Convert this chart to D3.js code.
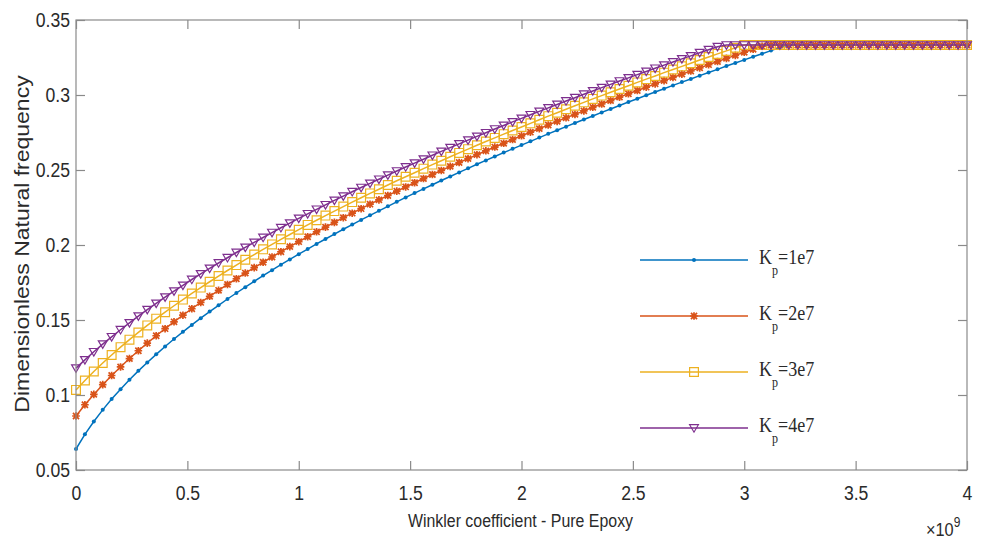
<!DOCTYPE html>
<html>
<head>
<meta charset="utf-8">
<script src="https://cdn.jsdelivr.net/npm/d3@7"></script>
<style>
  html, body { margin: 0; padding: 0; background: #fff; }
  svg { display: block; }
</style>
</head>
<body>
<svg id="chart" width="983" height="543"></svg>
<script>
// ---------------- data ----------------
const xTicks = [0, 0.5, 1, 1.5, 2, 2.5, 3, 3.5, 4];
const xTickLabels = ["0", "0.5", "1", "1.5", "2", "2.5", "3", "3.5", "4"];
const yTicks = [0.05, 0.1, 0.15, 0.2, 0.25, 0.3, 0.35];
const yTickLabels = ["0.05", "0.1", "0.15", "0.2", "0.25", "0.3", "0.35"];
const xLabel = "Winkler coefficient - Pure Epoxy";
const yLabel = "Dimensionless Natural frequency";
const xExponent = "9";

// Winkler coefficient samples (x 1e9), 0 to 4 with step 0.04
const winkler = d3.range(101).map(i => +(i * 0.04).toFixed(2));

const seriesNames = ["1e7", "2e7", "3e7", "4e7"];

const kp1 = [0.0640,0.0738,0.0823,0.0901,0.0973,0.1039,0.1102,0.1161,0.1217,0.1271,
  0.1323,0.1373,0.1421,0.1467,0.1512,0.1556,0.1598,0.1640,0.1680,0.1719,
  0.1758,0.1796,0.1832,0.1869,0.1904,0.1939,0.1973,0.2007,0.2040,0.2073,
  0.2105,0.2136,0.2167,0.2198,0.2228,0.2258,0.2288,0.2317,0.2346,0.2374,
  0.2402,0.2430,0.2457,0.2484,0.2511,0.2538,0.2564,0.2590,0.2616,0.2641,
  0.2666,0.2691,0.2716,0.2741,0.2765,0.2789,0.2813,0.2837,0.2860,0.2884,
  0.2907,0.2930,0.2953,0.2975,0.2998,0.3020,0.3042,0.3064,0.3086,0.3107,
  0.3129,0.3150,0.3171,0.3193,0.3213,0.3234,0.3255,0.3275,0.3296,0.3316,
  0.3333,0.3333,0.3333,0.3333,0.3333,0.3333,0.3333,0.3333,0.3333,0.3333,
  0.3333,0.3333,0.3333,0.3333,0.3333,0.3333,0.3333,0.3333,0.3333,0.3333,
  0.3333];

const kp2 = [0.0860,0.0935,0.1004,0.1069,0.1130,0.1187,0.1243,0.1295,0.1346,0.1395,
  0.1442,0.1488,0.1532,0.1575,0.1617,0.1658,0.1698,0.1737,0.1775,0.1813,
  0.1849,0.1885,0.1920,0.1955,0.1989,0.2022,0.2055,0.2088,0.2119,0.2151,
  0.2182,0.2212,0.2242,0.2272,0.2301,0.2330,0.2359,0.2387,0.2415,0.2443,
  0.2470,0.2497,0.2524,0.2550,0.2576,0.2602,0.2628,0.2653,0.2678,0.2703,
  0.2728,0.2752,0.2776,0.2800,0.2824,0.2848,0.2871,0.2894,0.2918,0.2940,
  0.2963,0.2986,0.3008,0.3030,0.3052,0.3074,0.3096,0.3117,0.3139,0.3160,
  0.3181,0.3202,0.3223,0.3244,0.3264,0.3285,0.3305,0.3325,0.3333,0.3333,
  0.3333,0.3333,0.3333,0.3333,0.3333,0.3333,0.3333,0.3333,0.3333,0.3333,
  0.3333,0.3333,0.3333,0.3333,0.3333,0.3333,0.3333,0.3333,0.3333,0.3333,
  0.3333];

const kp3 = [0.1034,0.1097,0.1157,0.1213,0.1267,0.1319,0.1369,0.1417,0.1464,0.1509,
  0.1552,0.1595,0.1636,0.1677,0.1716,0.1755,0.1793,0.1830,0.1866,0.1902,
  0.1936,0.1971,0.2004,0.2038,0.2070,0.2102,0.2134,0.2165,0.2196,0.2226,
  0.2256,0.2286,0.2315,0.2344,0.2372,0.2400,0.2428,0.2455,0.2482,0.2509,
  0.2536,0.2562,0.2588,0.2614,0.2639,0.2665,0.2690,0.2714,0.2739,0.2763,
  0.2787,0.2811,0.2835,0.2859,0.2882,0.2905,0.2928,0.2951,0.2974,0.2996,
  0.3018,0.3040,0.3062,0.3084,0.3106,0.3127,0.3149,0.3170,0.3191,0.3212,
  0.3233,0.3253,0.3274,0.3294,0.3315,0.3333,0.3333,0.3333,0.3333,0.3333,
  0.3333,0.3333,0.3333,0.3333,0.3333,0.3333,0.3333,0.3333,0.3333,0.3333,
  0.3333,0.3333,0.3333,0.3333,0.3333,0.3333,0.3333,0.3333,0.3333,0.3333,
  0.3333];

const kp4 = [0.1179,0.1234,0.1288,0.1339,0.1388,0.1435,0.1481,0.1526,0.1569,0.1611,
  0.1652,0.1692,0.1731,0.1770,0.1807,0.1844,0.1880,0.1915,0.1950,0.1984,
  0.2017,0.2050,0.2083,0.2115,0.2146,0.2177,0.2208,0.2238,0.2268,0.2297,
  0.2326,0.2355,0.2383,0.2411,0.2438,0.2466,0.2493,0.2520,0.2546,0.2572,
  0.2598,0.2624,0.2649,0.2674,0.2699,0.2724,0.2748,0.2773,0.2797,0.2821,
  0.2844,0.2868,0.2891,0.2914,0.2937,0.2960,0.2982,0.3005,0.3027,0.3049,
  0.3071,0.3093,0.3114,0.3136,0.3157,0.3178,0.3199,0.3220,0.3241,0.3261,
  0.3282,0.3302,0.3322,0.3333,0.3333,0.3333,0.3333,0.3333,0.3333,0.3333,
  0.3333,0.3333,0.3333,0.3333,0.3333,0.3333,0.3333,0.3333,0.3333,0.3333,
  0.3333,0.3333,0.3333,0.3333,0.3333,0.3333,0.3333,0.3333,0.3333,0.3333,
  0.3333];

const seriesValues = [kp1, kp2, kp3, kp4];
const colors = ["#0072BD", "#D95319", "#EDB120", "#7E2F8E"];
const markerTypes = ["dot", "asterisk", "square", "triangleDown"];

// ---------------- layout ----------------
const svg = d3.select("#chart");
const L = 76, R = 967, T = 20, B = 470;
const axisColor = "#8a8a8a";
const textColor = "#2a2a2a";
const tickFont = "'Liberation Sans', Arial, Helvetica, sans-serif";
const squeeze = 0.86; // horizontal compression seen in the reference text

const x = d3.scaleLinear().domain([0, 4]).range([L, R]);
const y = d3.scaleLinear().domain([0.05, 0.35]).range([B, T]);

function markerPath(type) {
  switch (type) {
    case "asterisk": {
      const r = 3.8, d = r * 0.8;
      return `M${-r},0L${r},0M0,${-r}L0,${r}M${-d},${-d}L${d},${d}M${-d},${d}L${d},${-d}`;
    }
    case "square": {
      const s = 4.4;
      return `M${-s},${-s}L${s},${-s}L${s},${s}L${-s},${s}Z`;
    }
    case "triangleDown": {
      const s = 4.4;
      return `M${-s},${-s * 0.75}L${s},${-s * 0.75}L0,${s * 0.95}Z`;
    }
  }
  return "";
}

function drawMarker(g, type, cx, cy, color) {
  if (type === "dot") {
    g.append("circle").attr("cx", cx).attr("cy", cy).attr("r", 2)
      .attr("fill", color);
  } else {
    g.append("path")
      .attr("d", markerPath(type))
      .attr("transform", `translate(${cx},${cy})`)
      .attr("fill", "none")
      .attr("stroke", color)
      .attr("stroke-width", type === "asterisk" ? 1.7 : 1.2);
  }
}

const lineGen = d3.line().x(d => x(d[0])).y(d => y(d[1]));
const plot = svg.append("g");

seriesValues.forEach((vals, si) => {
  const pts = winkler.map((w, i) => [w, vals[i]]);
  plot.append("path")
    .attr("d", lineGen(pts))
    .attr("fill", "none")
    .attr("stroke", colors[si])
    .attr("stroke-width", 1.5);
  const g = plot.append("g");
  pts.forEach(p => drawMarker(g, markerTypes[si], x(p[0]), y(p[1]), colors[si]));
});

// axes box
const axesG = svg.append("g");
axesG.append("rect")
  .attr("x", L).attr("y", T).attr("width", R - L).attr("height", B - T)
  .attr("fill", "none").attr("stroke", axisColor).attr("stroke-width", 1.2);

const tickLen = 9;
const xAxisB = d3.axisBottom(x).tickValues(xTicks).tickSize(-tickLen)
  .tickFormat((d, i) => xTickLabels[i]).tickPadding(15);
const gxb = axesG.append("g").attr("transform", `translate(0,${B})`).call(xAxisB);
const xAxisT = d3.axisTop(x).tickValues(xTicks).tickSize(-tickLen).tickFormat("");
const gxt = axesG.append("g").attr("transform", `translate(0,${T})`).call(xAxisT);
const yAxisL = d3.axisLeft(y).tickValues(yTicks).tickSize(-tickLen)
  .tickFormat((d, i) => yTickLabels[i]).tickPadding(7);
const gyl = axesG.append("g").attr("transform", `translate(${L},0)`).call(yAxisL);
const yAxisR = d3.axisRight(y).tickValues(yTicks).tickSize(-tickLen).tickFormat("");
const gyr = axesG.append("g").attr("transform", `translate(${R},0)`).call(yAxisR);

[gxb, gxt, gyl, gyr].forEach(g => {
  g.select(".domain").remove();
  g.selectAll(".tick line").attr("stroke", axisColor).attr("stroke-width", 1.2);
  g.selectAll(".tick text")
    .attr("fill", textColor)
    .attr("transform", `scale(${squeeze},1)`)
    .style("font-family", tickFont)
    .style("font-size", "20.5px");
});

// axis labels
svg.append("text")
  .attr("transform", `translate(${(L + R) / 2 - 1},527) scale(${squeeze},1)`)
  .attr("text-anchor", "middle")
  .attr("fill", textColor)
  .style("font-family", tickFont).style("font-size", "18.5px")
  .text(xLabel);

svg.append("text")
  .attr("transform", `translate(29,244) scale(${squeeze},1) rotate(-90)`)
  .attr("text-anchor", "middle")
  .attr("fill", textColor)
  .style("font-family", tickFont).style("font-size", "23px")
  .text(yLabel);

// x10^9 exponent
const expT = svg.append("text")
  .attr("transform", `translate(926,536) scale(${squeeze},1)`)
  .attr("fill", textColor)
  .style("font-family", tickFont).style("font-size", "19px");
expT.append("tspan").text("\u00D710");
expT.append("tspan").attr("dy", -9).style("font-size", "14px").text(xExponent);

// legend
const legX1 = 640, legX2 = 748, legY0 = 260, legDy = 56;
const serif = "'Liberation Serif', 'Times New Roman', serif";
seriesNames.forEach((name, i) => {
  const ly = legY0 + i * legDy;
  svg.append("line")
    .attr("x1", legX1).attr("x2", legX2).attr("y1", ly).attr("y2", ly)
    .attr("stroke", colors[i]).attr("stroke-width", 1.5);
  drawMarker(svg, markerTypes[i], (legX1 + legX2) / 2, ly, colors[i]);
  const t = svg.append("text")
    .attr("transform", `translate(759,${ly + 4}) scale(${squeeze},1)`)
    .attr("fill", textColor)
    .style("font-family", serif).style("font-size", "21px");
  t.append("tspan").text("K");
  t.append("tspan").attr("dy", 11).style("font-size", "14px").text("p");
  t.append("tspan").attr("dy", -11).text("=" + name);
});
</script>
</body>
</html>
